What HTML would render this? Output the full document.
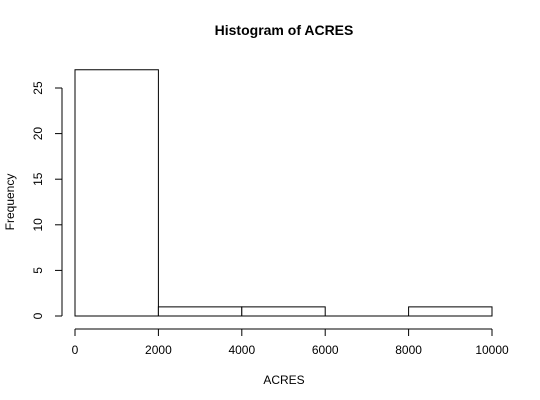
<!DOCTYPE html>
<html><head><meta charset="utf-8"><style>
html,body{margin:0;padding:0;background:#fff;}
svg{display:block;font-family:"Liberation Sans",Arial,sans-serif;}
</style></head><body>
<svg id="chart" width="540" height="400"></svg>
<script>
const binEdges = [0, 2000, 4000, 6000, 8000, 10000];
const counts = [27, 1, 1, 0, 1];
const xTicks = [0, 2000, 4000, 6000, 8000, 10000];
const yTicks = [0, 5, 10, 15, 20, 25];

const NS = "http://www.w3.org/2000/svg";
const svg = document.getElementById("chart");
const xs = v => 75 + v * (492 - 75) / 10000;
const ys = v => 316 - v * (316 - 88) / 25;
function mk(tag, attrs, parent) {
  const e = document.createElementNS(NS, tag);
  for (const k in attrs) e.setAttribute(k, attrs[k]);
  (parent || svg).appendChild(e);
  return e;
}
const title = mk("text", {x: 284, y: 35, "text-anchor": "middle", "font-size": 14, "font-weight": "bold", fill: "#000"});
title.textContent = "Histogram of ACRES";



const bars = mk("g", {});


counts.forEach((c, i) => {
  let r;
  if (c === 0) {
    r = mk("line", {x1: xs(binEdges[i]), x2: xs(binEdges[i+1]), y1: ys(0), y2: ys(0), stroke: "#000", "stroke-width": 1}, bars);
  } else {
    r = mk("rect", {x: xs(binEdges[i]), y: ys(c), width: xs(binEdges[i+1]) - xs(binEdges[i]), height: ys(0) - ys(c), fill: "#fff", stroke: "#000", "stroke-width": 1}, bars);
  }
  
  
});

const xa = mk("g", {});


mk("line", {x1: xs(xTicks[0]), x2: xs(xTicks[xTicks.length-1]), y1: 329, y2: 329, stroke: "#000"}, xa);
xTicks.forEach(t => {
  mk("line", {x1: xs(t), x2: xs(t), y1: 329, y2: 336, stroke: "#000"}, xa);
  const l = mk("text", {x: xs(t), y: 354, "text-anchor": "middle", "font-size": 12, fill: "#000"}, xa);
  l.textContent = t;
  
  
});

const ya = mk("g", {});


mk("line", {x1: 62, x2: 62, y1: ys(yTicks[0]), y2: ys(yTicks[yTicks.length-1]), stroke: "#000"}, ya);
yTicks.forEach(t => {
  mk("line", {x1: 55, x2: 62, y1: ys(t), y2: ys(t), stroke: "#000"}, ya);
  const l = mk("text", {x: 42, y: ys(t), "text-anchor": "middle", "font-size": 12, fill: "#000", transform: `rotate(-90 42 ${ys(t)})`}, ya);
  l.textContent = t;
  
  
});

const xt = mk("text", {x: 284, y: 384, "text-anchor": "middle", "font-size": 12, fill: "#000"});
xt.textContent = "ACRES";


const yt = mk("text", {x: 14, y: 202, "text-anchor": "middle", "font-size": 12, fill: "#000", transform: "rotate(-90 14 202)"});
yt.textContent = "Frequency";


</script>
</body></html>
